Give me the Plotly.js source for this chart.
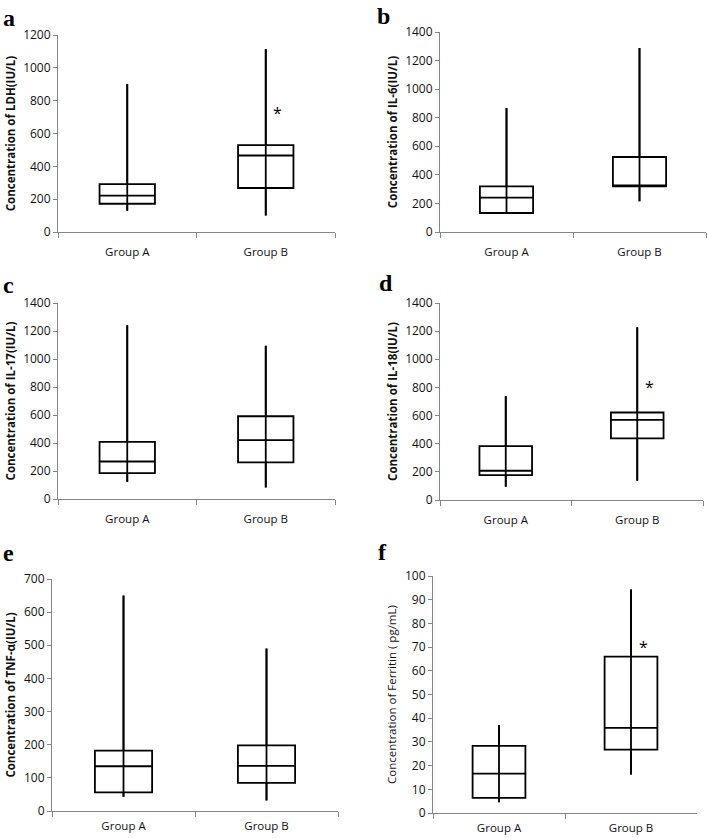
<!DOCTYPE html>
<html>
<head>
<meta charset="utf-8">
<script src="https://cdn.plot.ly/plotly-3.0.1.min.js"></script>
<style>
  body { margin: 0; background: #fff; }
  #grafica { width: 707px; height: 838px; }
</style>
</head>
<body>
<div id="grafica"></div>
<script>
// Datos
const groups = ['Group A', 'Group B'];
const panelLetters = ['a', 'b', 'c', 'd', 'e', 'f'];
const yTitles = [
    'Concentration of LDH(IU/L)',
    'Concentration of IL-6(IU/L)',
    'Concentration of IL-17(IU/L)',
    'Concentration of IL-18(IU/L)',
    'Concentration of TNF-α(IU/L)',
    'Concentration of Ferritin ( pg/mL)'
];
const yMax = [1200, 1400, 1400, 1400, 700, 100];
const yStep = [200, 200, 200, 200, 100, 10];

const minVals = [[130, 101], [133, 215], [121, 83], [95, 137], [43, 32], [4.5, 16.2]];
const q1Vals = [[172, 268], [133, 320], [185, 261], [177, 438], [56, 85], [6.4, 26.7]];
const medVals = [[221, 466], [240, 320], [268, 420], [208, 570], [135, 136], [16.6, 35.9]];
const q3Vals = [[292, 529], [320, 525], [408, 591], [383, 622], [182, 198], [28.3, 66.0]];
const maxVals = [[902, 1115], [868, 1288], [1241, 1094], [738, 1227], [650, 490], [37.1, 94.3]];
// asterisco sobre Group B (null = sin marca)
const starVals = [724, null, null, 804, null, 69.9];

function graficar() {
    // posiciones de cada panel en pixeles [x0, x1, yTop, yBottom]
    const cajas = [
        [58, 335, 35, 232],
        [440, 706, 32, 232],
        [58, 335, 303, 499],
        [440, 703, 303, 500],
        [52, 338, 579, 811],
        [433, 697, 576, 813]
    ];
    const letraPos = [[1, 3], [375, 1], [1, 270], [377, 268], [1, 538], [376, 537]];
    const W = 707, H = 838;
    const ejeGris = '#868686';

    const traces = [];
    const layout = {
        width: W,
        height: H,
        margin: { l: 0, r: 0, t: 0, b: 0 },
        paper_bgcolor: '#fff',
        plot_bgcolor: '#fff',
        showlegend: false,
        font: { family: 'Open Sans, Noto Sans, sans-serif', size: 11, color: '#111' },
        annotations: []
    };

    for (let i = 0; i < 6; i++) {
        const n = i + 1;
        const xa = 'x' + n, ya = 'y' + n;

        // linea completa min-max (atraviesa la caja)
        for (let g = 0; g < 2; g++) {
            traces.push({
                type: 'scatter',
                mode: 'lines',
                x: [groups[g], groups[g]],
                y: [minVals[i][g], maxVals[i][g]],
                line: { color: '#000', width: 1.8 },
                hoverinfo: 'skip',
                xaxis: xa,
                yaxis: ya
            });
        }

        traces.push({
            type: 'box',
            x: groups,
            q1: q1Vals[i],
            median: medVals[i],
            q3: q3Vals[i],
            lowerfence: minVals[i],
            upperfence: maxVals[i],
            boxpoints: false,
            whiskerwidth: 0,
            width: 0.4,
            fillcolor: 'rgba(0,0,0,0)',
            line: { color: '#000', width: 1.8 },
            hoverinfo: 'skip',
            xaxis: xa,
            yaxis: ya
        });

        const c = cajas[i];
        const sufijo = n === 1 ? '' : n;
        layout['xaxis' + sufijo] = {
            domain: [c[0] / W, c[1] / W],
            anchor: ya,
            type: 'category',
            range: [-0.5, 1.5],
            tickson: 'boundaries',
            ticks: 'outside',
            ticklen: 5,
            tickcolor: ejeGris,
            showline: true,
            linecolor: ejeGris,
            linewidth: 1,
            showgrid: false,
            zeroline: false,
            ticklabelstandoff: i >= 4 ? 4 : 9,
            tickfont: { size: 11.5, color: '#111' }
        };
        layout['yaxis' + sufijo] = {
            domain: [1 - c[3] / H, 1 - c[2] / H],
            anchor: xa,
            range: [0, yMax[i]],
            dtick: yStep[i],
            ticks: 'outside',
            ticklen: 4,
            tickcolor: ejeGris,
            showline: true,
            linecolor: ejeGris,
            linewidth: 1,
            showgrid: false,
            zeroline: false,
            tickfont: { size: 12, color: '#111' },
            title: {
                text: i === 5 ? yTitles[i] : '<b>' + yTitles[i] + '</b>',
                font: { size: 11.5, color: '#111' },
                standoff: 5
            }
        };

        if (starVals[i] !== null) {
            layout.annotations.push({
                x: groups[1],
                y: starVals[i],
                xref: xa,
                yref: ya,
                text: '*',
                showarrow: false,
                xshift: 12,
                font: { size: 16, color: '#000' }
            });
        }

        layout.annotations.push({
            x: letraPos[i][0] / W,
            y: 1 - letraPos[i][1] / H,
            xref: 'paper',
            yref: 'paper',
            xanchor: 'left',
            yanchor: 'top',
            text: '<b>' + panelLetters[i] + '</b>',
            showarrow: false,
            font: { family: 'Liberation Serif, DejaVu Serif, serif', size: 24, color: '#000' }
        });
    }

    Plotly.newPlot('grafica', traces, layout, { staticPlot: true });
}

graficar();
</script>
</body>
</html>
